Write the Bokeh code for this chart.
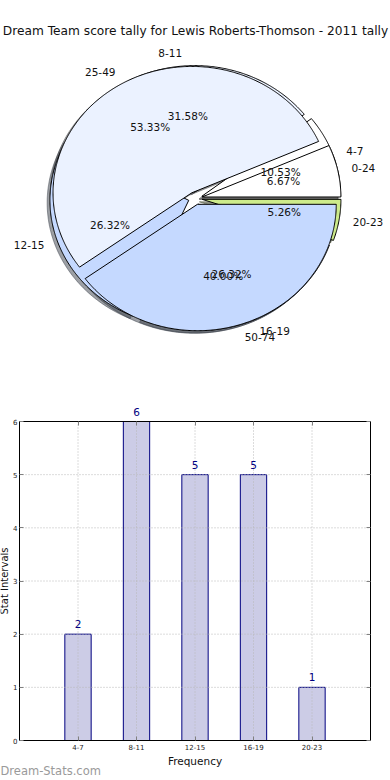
import math
from bokeh.plotting import figure
from bokeh.models import Range1d, ColumnDataSource, FixedTicker, LinearAxis
from bokeh.layouts import column
from bokeh.embed import file_html
from bokeh.resources import INLINE
from bokeh.core.properties import value

# ---------------- data ----------------
title_text = "Dream Team score tally for Lewis Roberts-Thomson - 2011 tally"
inner_labels = ["4-7", "8-11", "12-15", "16-19", "20-23"]
inner_counts = [2, 6, 5, 5, 1]
outer_labels = ["0-24", "25-49", "50-74"]
outer_counts = [1, 8, 6]
bar_categories = ["4-7", "8-11", "12-15", "16-19", "20-23"]
bar_values = [2, 6, 5, 5, 1]
y_ticks = [0, 1, 2, 3, 4, 5, 6]
x_axis_label = "Frequency"
y_axis_label = "Stat Intervals"
watermark = "Dream-Stats.com"

inner_colors = ["#FFFFFF", "#EBF2FF", "#C5D9FF", "#C5D9FF", "#CDEB8B"]
outer_colors = ["#FFFFFF", "#EBF2FF", "#C5D9FF"]

FONT = "DejaVu Sans"
W = 390
PIE_H = 390
BAR_H = 388

# ---------------- pie chart ----------------
CX, CY = 194.8, 197.8      # pie centre in px
RX, RY = 138.8, 126.4      # pixel size of unit radius
EXPLODE = 0.05

pie = figure(width=W, height=PIE_H,
             x_range=Range1d(-CX / RX, (W - CX) / RX),
             y_range=Range1d(-(PIE_H - CY) / RY, CY / RY),
             x_axis_location=None, y_axis_location=None,
             output_backend="svg", toolbar_location=None, min_border=0)
pie.grid.visible = False
pie.outline_line_color = None


def build_wedges(counts, labels, colors):
    total = float(sum(counts))
    out = []
    cum = 0.0
    for c, lab, col in zip(counts, labels, colors):
        t1 = 360.0 * cum / total
        t2 = 360.0 * (cum + c) / total
        cum += c
        mid = math.radians((t1 + t2) / 2.0)
        ox, oy = EXPLODE * math.cos(mid), EXPLODE * math.sin(mid)
        n = max(3, int(abs(t2 - t1) * 2)) + 1
        xs, ys = [ox], [oy]
        for i in range(n):
            a = math.radians(t1 + (t2 - t1) * i / (n - 1))
            xs.append(ox + math.cos(a))
            ys.append(oy + math.sin(a))
        out.append(dict(xs=xs, ys=ys, mid=mid, ox=ox, oy=oy,
                        frac=c / total, label=lab, color=col))
    return out


def darker(hexcol):
    h = hexcol.lstrip("#")
    r, g, b = (int(h[i:i + 2], 16) for i in (0, 2, 4))
    return "#%02x%02x%02x" % (int(r * 0.3), int(g * 0.3), int(b * 0.3))


inner = build_wedges(inner_counts, inner_labels, inner_colors)
outer = build_wedges(outer_counts, outer_labels, outer_colors)

for w in inner + outer:
    sc = darker(w["color"])
    pie.patch([x - 0.02 for x in w["xs"]], [y - 0.02 for y in w["ys"]],
              fill_color=sc, fill_alpha=0.5, line_color=sc, line_alpha=0.5, line_width=1)
for w in inner + outer:
    pie.patch(w["xs"], w["ys"], fill_color=w["color"], line_color="black", line_width=1)

lx_l, ly_l, lt_l = [], [], []
lx_r, ly_r, lt_r = [], [], []
px_, py_, pt_ = [], [], []
for w in inner + outer:
    xt = w["ox"] + 1.1 * math.cos(w["mid"])
    yt = w["oy"] + 1.1 * math.sin(w["mid"])
    if xt > 0:
        lx_l.append(xt); ly_l.append(yt); lt_l.append(w["label"])
    else:
        lx_r.append(xt); ly_r.append(yt); lt_r.append(w["label"])
    px_.append(w["ox"] + 0.6 * math.cos(w["mid"]))
    py_.append(w["oy"] + 0.6 * math.sin(w["mid"]))
    pt_.append("%.2f%%" % (w["frac"] * 100))

common = dict(text_font=value(FONT), text_font_size="10.5px", text_color="#111111",
              text_baseline="middle")
pie.text(x=lx_l, y=ly_l, text=lt_l, text_align="left", **common)
pie.text(x=lx_r, y=ly_r, text=lt_r, text_align="right", **common)
pie.text(x=px_, y=py_, text=pt_, text_align="center", **common)

pie.text(x=[(W / 2 - CX) / RX], y=[(CY - 30) / RY], text=[title_text],
         text_font=value(FONT), text_font_size="12.2px", text_color="#111111",
         text_align="center", text_baseline="middle")

# ---------------- bar chart ----------------
# frame covers the whole canvas; axes are pinned at the data box edges
FL, FR = 19, 20            # px between canvas edge and the data box (left / right)
FT, FB = 31, 38            # px between canvas edge and the data box (top / bottom)
nx = len(bar_values) + 1
ux = (W - FL - FR) / nx
uy = (BAR_H - FT - FB) / (y_ticks[-1] - y_ticks[0])

bar = figure(width=W, height=BAR_H,
             x_range=Range1d(-FL / ux, nx + FR / ux),
             y_range=Range1d(y_ticks[0] - FB / uy, y_ticks[-1] + FT / uy),
             x_axis_location=None, y_axis_location=None,
             output_backend="svg", toolbar_location=None, min_border=0)
bar.outline_line_color = None
bar.grid.visible = False
bar.background_fill_color = "white"
bar.border_fill_color = "white"

xpos = list(range(1, len(bar_values) + 1))
src = ColumnDataSource(dict(x=xpos, top=bar_values, lab=[str(v) for v in bar_values]))
bar.vbar(x="x", top="top", bottom=0, width=0.45, source=src,
         fill_color="#CCCCE6", line_color="#000080", line_width=1)

# dotted grid drawn over the bars, limited to the data box
bar.segment(x0=xpos, x1=xpos, y0=[y_ticks[0]] * len(xpos), y1=[y_ticks[-1]] * len(xpos),
            line_color="#b8b8b8", line_dash="1 2", line_width=1)
bar.segment(x0=[0] * len(y_ticks), x1=[nx] * len(y_ticks), y0=y_ticks, y1=y_ticks,
            line_color="#b8b8b8", line_dash="1 2", line_width=1)

bar.text(x="x", y="top", text="lab", source=src, text_align="center",
         text_baseline="bottom", y_offset=-6, text_color="#000080",
         text_font_size="10.5px", text_font=value(FONT))


def style_axis(ax, show_labels):
    ax.axis_line_color = "black"
    ax.axis_line_width = 1
    ax.major_tick_in = 4
    ax.major_tick_out = 0
    ax.major_tick_line_color = "#808080"
    ax.minor_tick_line_color = None
    ax.major_label_text_font = FONT
    ax.major_label_text_font_size = "7px" if show_labels else "0px"
    ax.major_label_text_color = "#222222" if show_labels else None
    ax.major_label_standoff = 3
    ax.axis_label_text_font = FONT
    ax.axis_label_text_font_size = "10.5px"
    ax.axis_label_text_font_style = "normal"
    ax.axis_label_text_color = "#111111"
    ax.axis_label_standoff = 2


xb = LinearAxis(ticker=FixedTicker(ticks=xpos), fixed_location=0,
                major_label_overrides={x: c for x, c in zip(xpos, bar_categories)},
                axis_label=x_axis_label)
style_axis(xb, True)
xb.bounds = (0, nx)
bar.add_layout(xb, "below")

yl = LinearAxis(ticker=FixedTicker(ticks=y_ticks), fixed_location=0, axis_label=y_axis_label)
style_axis(yl, True)
yl.bounds = (y_ticks[0], y_ticks[-1])
yl.major_label_standoff = 2
yl.axis_label_standoff = 0
yl.axis_label_text_font_size = "10px"
bar.add_layout(yl, "left")

xt_ = LinearAxis(ticker=FixedTicker(ticks=xpos), fixed_location=y_ticks[-1])
style_axis(xt_, False)
xt_.bounds = (0, nx)
bar.add_layout(xt_, "above")

yr = LinearAxis(ticker=FixedTicker(ticks=y_ticks), fixed_location=nx)
style_axis(yr, False)
yr.bounds = (y_ticks[0], y_ticks[-1])
bar.add_layout(yr, "right")

bar.text(x=[-FL / ux], y=[-(770 - 740) / uy], text=[watermark],
         text_color="#9a9a9a", text_font=value(FONT), text_font_size="11.5px",
         text_align="left", text_baseline="middle")

layout = column(pie, bar, spacing=0)
open("out.html", "w").write(file_html(layout, INLINE))
